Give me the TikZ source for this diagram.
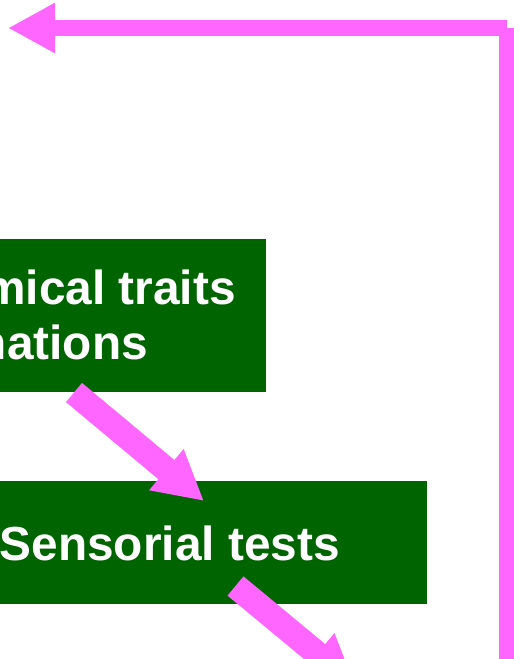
\documentclass[tikz,border=0pt]{standalone}
\usepackage{fontspec}
\setmainfont{Liberation Sans}
\usetikzlibrary{arrows.meta}
\definecolor{boxgreen}{RGB}{0,100,0}
\definecolor{arrowpink}{RGB}{255,102,255}
\begin{document}
\begin{tikzpicture}[x=1pt,y=-1pt,
  box/.style={fill=boxgreen,draw=none,inner sep=0pt,anchor=north east},
  label/.style={text=white,font=\fontsize{47.8}{55}\selectfont\bfseries,inner sep=0pt,anchor=base east},
  bigarrow/.style={draw=arrowpink,line width=25pt,line cap=butt,-{Triangle[length=49pt,width=50pt]}},
  looparrow/.style={draw=arrowpink,line width=16pt,line cap=butt}]
\useasboundingbox (0,0) rectangle (514,659);
\clip (0,0) rectangle (514,659);
\fill[white] (0,0) rectangle (514,659);
% boxes
\node[box,minimum width=400pt,minimum height=152.7pt] (b1) at (265.7,239) {};
\node[box,minimum width=500pt,minimum height=123pt] (b2) at (427.5,481) {};
% texts
\node[label] (t1a) at (236,304.5) {mical traits};
\node[label] (t1b) at (148,359) {nations};
\node[label] (t2) at (340,560.5) {Sensorial tests};
% arrow coordinates
\coordinate (a1s) at (74,392.5);
\coordinate (a1e) at (204,501);
\coordinate (a2s) at (235.5,586);
\coordinate (a2e) at (355,685);
\coordinate (corner) at (507,28);
\coordinate (toptip) at (8,28);
\coordinate (bottom) at (507,700);
% arrows
\draw[bigarrow] (a1s) -- (a1e);
\draw[bigarrow] (a2s) -- (a2e);
\draw[looparrow] (corner) -- (bottom);
\draw[looparrow,-{Triangle[length=47pt,width=47pt]}] (corner) -- (toptip);
\end{tikzpicture}
\end{document}
